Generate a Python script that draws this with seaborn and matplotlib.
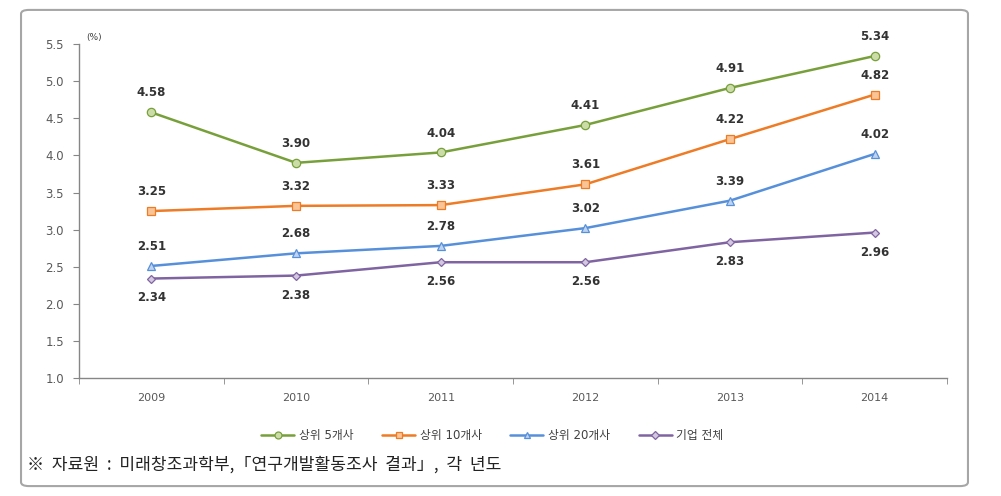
import pandas as pd
import matplotlib
matplotlib.use("Agg")
import matplotlib.pyplot as plt
from matplotlib.patches import FancyBboxPatch
from matplotlib.lines import Line2D
import seaborn as sns

years = ["2009", "2010", "2011", "2012", "2013", "2014"]
top5 = [4.58, 3.90, 4.04, 4.41, 4.91, 5.34]
top10 = [3.25, 3.32, 3.33, 3.61, 4.22, 4.82]
top20 = [2.51, 2.68, 2.78, 3.02, 3.39, 4.02]
all_firms = [2.34, 2.38, 2.56, 2.56, 2.83, 2.96]
series_names = ["상위 5개사", "상위 10개사", "상위 20개사", "기업 전체"]

sns.set_style("white")
plt.rcParams['font.family'] = ['DejaVu Sans', 'Noto Sans CJK KR']

# 선 색, 마커 채움색, 마커 모양, 라벨 위치(위/아래)
styles = [
    ("#77A03A", "#CBDCA8", "o", 1),
    ("#EE7B25", "#F9C596", "s", 1),
    ("#5790DA", "#BFD3EE", "^", 1),
    ("#8064A2", "#D3C8E0", "D", -1),
]

fig = plt.figure(figsize=(10.01, 4.96), dpi=100)
border = FancyBboxPatch((0.021, 0.02), 0.946, 0.96, boxstyle="round,pad=0,rounding_size=0.008",
                        transform=fig.transFigure, facecolor="none", edgecolor="#A6A6A6",
                        linewidth=1.5, zorder=-1)
fig.patches.append(border)

ax = fig.add_axes([0.079, 0.238, 0.867, 0.673])
ax.set_facecolor("none")

handles = []
for name, vals, (lc, fc, mk, side) in zip(series_names, [top5, top10, top20, all_firms], styles):
    df = pd.DataFrame({"year": years, "value": vals})
    sns.lineplot(data=df, x="year", y="value", ax=ax, color=lc, linewidth=1.8,
                 marker=mk, markersize=6 if mk != "D" else 4.5, markerfacecolor=fc,
                 markeredgecolor=lc, markeredgewidth=0.9)
    for i, v in enumerate(vals):
        ax.annotate(f"{v:.2f}", (i, v), xytext=(0, 14 * side), textcoords="offset points",
                    ha="center", va="center", fontsize=8.5, fontweight="bold", color="#333333")
    handles.append(Line2D([], [], color=lc, linewidth=1.8, marker=mk,
                          markersize=5 if mk != "D" else 4, markerfacecolor=fc,
                          markeredgecolor=lc, markeredgewidth=0.9))

ax.set_xlim(-0.5, 5.5)
ax.set_ylim(1.0, 5.5)
ax.set_yticks([1.0, 1.5, 2.0, 2.5, 3.0, 3.5, 4.0, 4.5, 5.0, 5.5])
ax.set_yticklabels([f"{t:.1f}" for t in ax.get_yticks()])
ax.set_xticks(range(len(years)))
ax.set_xticklabels(years)
ax.set_xticks([i - 0.5 for i in range(len(years) + 1)], minor=True)
ax.tick_params(axis="x", which="major", length=0, pad=11, labelsize=8, colors="#595959")
ax.tick_params(axis="x", which="minor", length=4, direction="out", color="#868686", bottom=True)
ax.tick_params(axis="y", length=4, direction="out", color="#868686", labelsize=8.5,
               colors="#595959", left=True, pad=7)
ax.set_xlabel("")
ax.set_ylabel("")
for s in ["top", "right"]:
    ax.spines[s].set_visible(False)
for s in ["left", "bottom"]:
    ax.spines[s].set_color("#868686")
    ax.spines[s].set_linewidth(1)

fig.text(0.086, 0.925, "(%)", fontsize=6.5, color="#404040", ha="left", va="center")

fig.legend(handles, series_names, loc="center", bbox_to_anchor=(0.492, 0.121), ncol=4,
           frameon=False, fontsize=8.5, handlelength=2.8, columnspacing=2.4, handletextpad=0.4,
           labelcolor="#404040")

fig.text(0.027, 0.064, "※  자료원  :  미래창조과학부,「연구개발활동조사  결과」,  각  년도",
         fontsize=12.3, color="#222222", ha="left", va="center",
         family=['Noto Sans CJK KR', 'DejaVu Sans'])

fig.savefig("out.png", dpi=100)
